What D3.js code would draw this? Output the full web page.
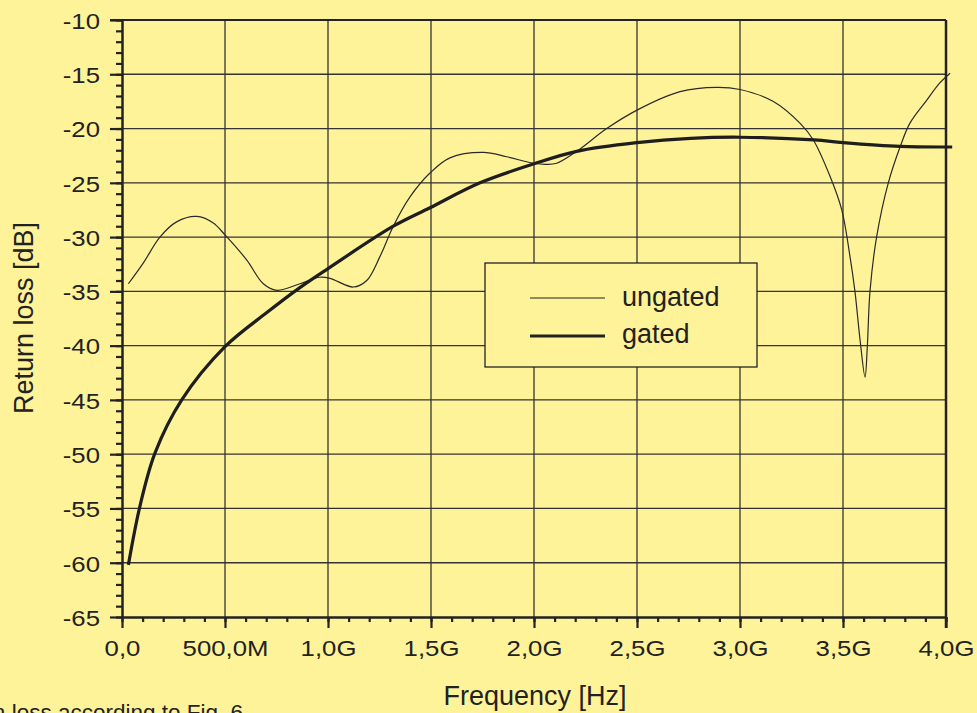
<!DOCTYPE html>
<html lang="en">
<head>
    <meta charset="UTF-8">
    <title>Return loss - gated vs ungated</title>

    <style>
        body {
            margin: 0;
            background: #fff399;
        }

        svg {
            display: block;
            font-family: "Liberation Sans", Arial, Helvetica, sans-serif;
        }

        .grid line {
            stroke: #333;
            stroke-width: 1.3px;
        }

        .axis path, .axis line {
            stroke: #222;
        }

        .axis text {
            fill: #222;
            font-size: 23px;
        }
    </style>
</head>

<body>

<div id="chart"></div>

<script src="https://d3js.org/d3.v7.min.js"></script>

<script>

    // frequency in GHz, return loss in dB
    var freqUngated = [0.031, 0.103, 0.184, 0.265, 0.363, 0.443, 0.5, 0.605, 0.686, 0.751,
        0.864, 0.96, 1.01, 1.123, 1.188, 1.252, 1.317, 1.398, 1.495, 1.592,
        1.754, 1.867, 1.997, 2.06, 2.11, 2.207, 2.353, 2.5, 2.709, 2.887,
        3.0, 3.162, 3.291, 3.356, 3.437, 3.494, 3.534, 3.558, 3.583, 3.607,
        3.618, 3.631, 3.663, 3.72, 3.777, 3.825, 3.906, 3.97, 4.02];
    var lossUngated = [-34.3, -32.4, -30.0, -28.6, -28.1, -28.7, -29.8, -32.1, -34.3, -34.9,
        -34.3, -33.7, -33.8, -34.6, -34.0, -31.8, -29.0, -26.3, -24.1, -22.7,
        -22.2, -22.6, -23.2, -23.3, -23.2, -22.1, -20.0, -18.3, -16.6, -16.2,
        -16.4, -17.5, -19.5, -21.05, -24.4, -27.5, -31.8, -35.0, -39.5, -42.9,
        -40.1, -35.0, -30.0, -25.0, -21.7, -19.5, -17.4, -15.8, -14.9];

    var freqGated = [0.031, 0.087, 0.16, 0.29, 0.5, 0.7, 0.86, 1.0, 1.317, 1.495,
        1.738, 2.0, 2.207, 2.5, 2.76, 3.0, 3.36, 3.5, 3.777, 4.03];
    var lossGated = [-60.2, -54.8, -49.9, -45.0, -40.1, -37.0, -34.7, -32.9, -29.0, -27.3,
        -25.0, -23.25, -22.1, -21.3, -20.9, -20.8, -21.05, -21.3, -21.65, -21.7];

    var xTicks = [0, 0.5, 1, 1.5, 2, 2.5, 3, 3.5, 4];
    var xTickLabels = ["0,0", "500,0M", "1,0G", "1,5G", "2,0G", "2,5G", "3,0G", "3,5G", "4,0G"];
    var yTicks = [-10, -15, -20, -25, -30, -35, -40, -45, -50, -55, -60, -65];

    var seriesNames = ["ungated", "gated"];

    var width = 977,
        height = 713;

    var plotLeft = 122, plotRight = 946, plotTop = 20, plotBottom = 617;

    var svg = d3.select("#chart").append("svg")
        .attr("width", width)
        .attr("height", height);

    var x = d3.scaleLinear().domain([0, 4]).range([plotLeft, plotRight]);
    var y = d3.scaleLinear().domain([-65, -10]).range([plotBottom, plotTop]);

    // grid
    var grid = svg.append("g").attr("class", "grid");
    grid.selectAll(".vg")
        .data(xTicks.slice(1, -1))
        .enter().append("line")
        .attr("x1", function (d) { return x(d); })
        .attr("x2", function (d) { return x(d); })
        .attr("y1", plotTop)
        .attr("y2", plotBottom);
    grid.selectAll(".hg")
        .data(yTicks.slice(1, -1))
        .enter().append("line")
        .attr("x1", plotLeft)
        .attr("x2", plotRight)
        .attr("y1", function (d) { return y(d); })
        .attr("y2", function (d) { return y(d); });

    // frame: top and right border
    svg.append("line")
        .attr("x1", plotLeft - 12).attr("x2", plotRight)
        .attr("y1", plotTop).attr("y2", plotTop)
        .attr("stroke", "#222").attr("stroke-width", 2);
    svg.append("line")
        .attr("x1", plotRight).attr("x2", plotRight)
        .attr("y1", plotTop).attr("y2", plotBottom + 11)
        .attr("stroke", "#222").attr("stroke-width", 2.5);

    // minor ticks
    var yAxisMinor = svg.append("g")
        .attr("class", "axis")
        .attr("transform", "translate(" + plotLeft + ",0)")
        .call(d3.axisLeft(y).tickValues(d3.range(-65, -9, 1)).tickSize(6).tickFormat(""));
    yAxisMinor.selectAll("line").attr("stroke-width", 2.2);
    yAxisMinor.select(".domain").remove();

    var xAxisMinor = svg.append("g")
        .attr("class", "axis")
        .attr("transform", "translate(0," + plotBottom + ")")
        .call(d3.axisBottom(x).tickValues(d3.range(0, 41).map(function (i) { return i / 10; })).tickSize(5).tickFormat(""));
    xAxisMinor.selectAll("line").attr("stroke-width", 2.2);
    xAxisMinor.select(".domain").remove();

    // major axes
    var yAxis = svg.append("g")
        .attr("class", "axis")
        .attr("transform", "translate(" + plotLeft + ",0)")
        .call(d3.axisLeft(y).tickValues(yTicks).tickSize(12).tickSizeOuter(0).tickPadding(10)
            .tickFormat(function (d) { return String(d); }));
    yAxis.select(".domain").attr("stroke-width", 2.5);
    yAxis.selectAll("line").attr("stroke-width", 2.2);
    yAxis.selectAll("text")
        .attr("dy", "0.36em")
        .attr("transform", "scale(1.12,1)")
        .attr("x", -22 / 1.12);

    var xAxis = svg.append("g")
        .attr("class", "axis")
        .attr("transform", "translate(0," + plotBottom + ")")
        .call(d3.axisBottom(x).tickValues(xTicks).tickSize(11).tickSizeOuter(0).tickPadding(6)
            .tickFormat(function (d, i) { return xTickLabels[i]; }));
    xAxis.select(".domain").attr("stroke-width", 2.5);
    xAxis.selectAll("line").attr("stroke-width", 2.2);
    xAxis.selectAll("text")
        .attr("y", 0)
        .attr("dy", 0)
        .attr("transform", "translate(0,39) scale(1.12,1)");

    // curves
    var line = d3.line()
        .x(function (d) { return x(d[0]); })
        .y(function (d) { return y(d[1]); })
        .curve(d3.curveCatmullRom.alpha(0.5));

    var ungated = d3.zip(freqUngated, lossUngated);
    var gated = d3.zip(freqGated, lossGated);

    svg.append("path")
        .datum(ungated)
        .attr("fill", "none")
        .attr("stroke", "#2a2a2a")
        .attr("stroke-width", 1.2)
        .attr("d", line);

    svg.append("path")
        .datum(gated)
        .attr("fill", "none")
        .attr("stroke", "#1e1e1e")
        .attr("stroke-width", 3.2)
        .attr("stroke-linejoin", "round")
        .attr("d", line);

    // legend
    var legend = svg.append("g").attr("transform", "translate(485,263)");
    legend.append("rect")
        .attr("width", 272)
        .attr("height", 104)
        .attr("fill", "#fff399")
        .attr("stroke", "#222")
        .attr("stroke-width", 1.3);

    legend.selectAll(".item")
        .data(seriesNames)
        .enter().append("line")
        .attr("x1", 45).attr("x2", 120)
        .attr("y1", function (d, i) { return 35 + i * 38; })
        .attr("y2", function (d, i) { return 35 + i * 38; })
        .attr("stroke", "#222")
        .attr("stroke-width", function (d, i) { return i ? 3.2 : 1.2; });

    legend.selectAll(".label")
        .data(seriesNames)
        .enter().append("text")
        .attr("x", 137)
        .attr("y", function (d, i) { return 43 + i * 37; })
        .attr("fill", "#222")
        .attr("font-size", "27px")
        .text(function (d) { return d; });

    // axis titles
    svg.append("text")
        .attr("x", 535)
        .attr("y", 705)
        .attr("text-anchor", "middle")
        .attr("fill", "#222")
        .attr("font-size", "27px")
        .text("Frequency [Hz]");

    svg.append("text")
        .attr("transform", "translate(33,318) rotate(-90)")
        .attr("text-anchor", "middle")
        .attr("fill", "#222")
        .attr("font-size", "27px")
        .text("Return loss [dB]");

    // caption, cut off at the page edge
    svg.append("text")
        .attr("x", 243)
        .attr("y", 720)
        .attr("text-anchor", "end")
        .attr("fill", "#222")
        .attr("font-size", "22.5px")
        .text("Return loss according to Fig. 6");

</script>

</body>
</html>
